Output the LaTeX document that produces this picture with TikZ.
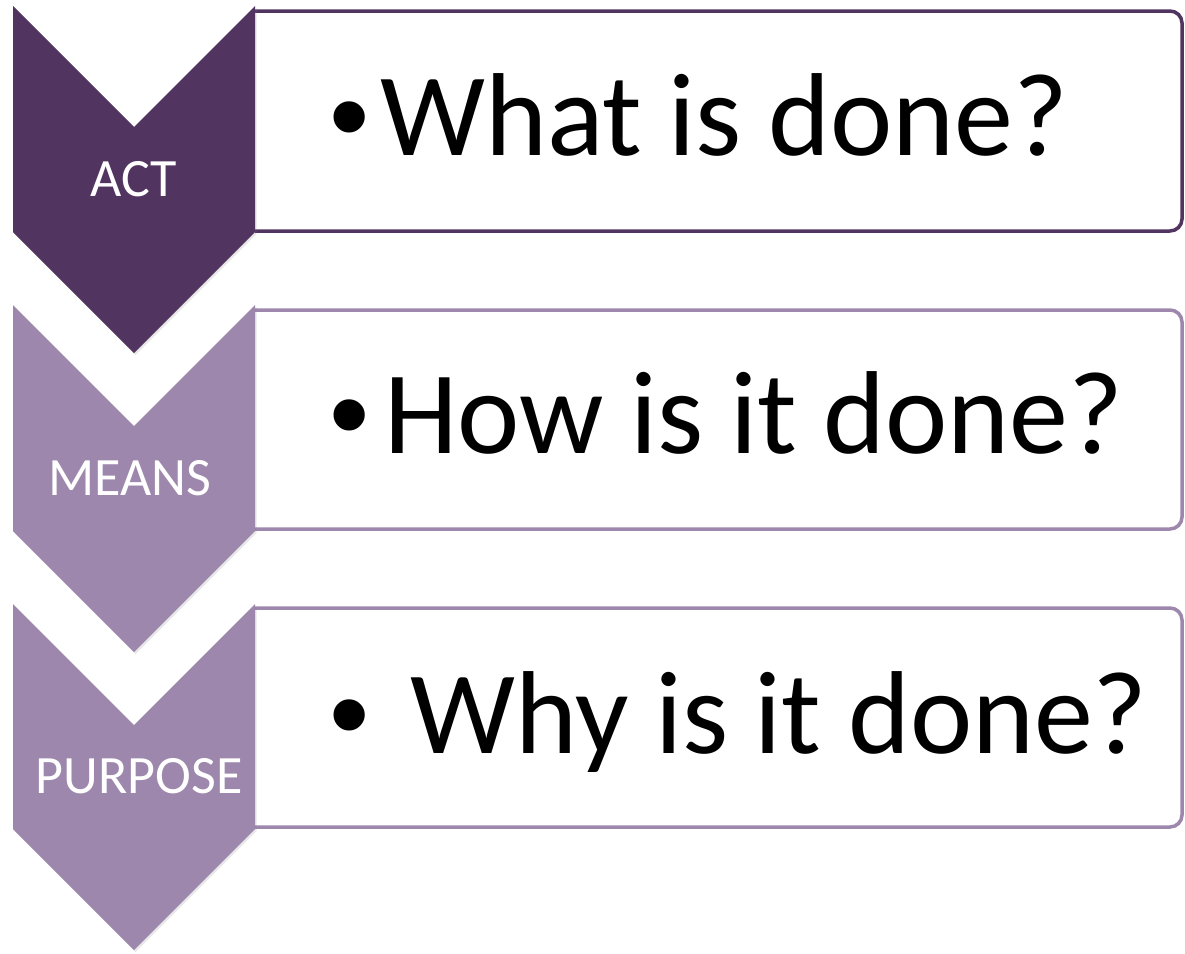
\documentclass[tikz,border=0pt]{standalone}
\usepackage{fontspec}
\setmainfont{Carlito}
\newfontfamily\bulletfont{Liberation Sans}
\usetikzlibrary{shadows}
\definecolor{darkpurple}{RGB}{82,52,96}
\definecolor{lightpurple}{RGB}{158,135,173}
\tikzset{
  chevronshape/.style={draw=none, drop shadow={opacity=0.18, shadow xshift=1.5pt, shadow yshift=-2pt}},
  boxline/.style={line width=3.5pt, rounded corners=12pt},
  label/.style={text=white, inner sep=0pt, anchor=base, font=\fontsize{54}{60}\selectfont},
  bigtext/.style={text=black, inner sep=0pt, anchor=base west, font=\fontsize{118}{130}\selectfont},
  bulletmark/.style={text=black, inner sep=0pt, anchor=base, font=\bulletfont\fontsize{115}{130}\selectfont}
}
\begin{document}
\begin{tikzpicture}[x=1pt,y=-1pt]
\useasboundingbox (0,0) rectangle (1185,953);
% boxes
\draw[boxline, draw=darkpurple] (255,11) -- (1182,11) -- (1182,231) -- (255,231);
\draw[boxline, draw=lightpurple] (255,310) -- (1182,310) -- (1182,529) -- (255,529);
\draw[boxline, draw=lightpurple] (255,608) -- (1182,608) -- (1182,827) -- (255,827);
% chevrons
\fill[chevronshape, fill=darkpurple] (13,6) -- (134,127) -- (255,6) -- (255,232) -- (134,353) -- (13,232) -- cycle;
\fill[chevronshape, fill=lightpurple] (13,305) -- (134,426) -- (255,305) -- (255,531) -- (134,652) -- (13,531) -- cycle;
\fill[chevronshape, fill=lightpurple] (13,604) -- (134,725) -- (255,604) -- (255,829) -- (134,950) -- (13,829) -- cycle;
% labels
\node[label] (act) at (134,196) {ACT};
\node[label] (means) at (130,495) {MEANS};
\node[label] (purpose) at (139,793) {PURPOSE};
% bullets and texts
\node[bulletmark] (b1) at (350,155) {•};
\node[bigtext] (t1) at (380,155) {What is done?};
\node[bulletmark] (b2) at (350,453) {•};
\node[bigtext] (t2) at (384,453) {How is it done?};
\node[bulletmark] (b3) at (350,753) {•};
\node[bigtext] (t3) at (410,753) {Why is it done?};
\end{tikzpicture}
\end{document}
